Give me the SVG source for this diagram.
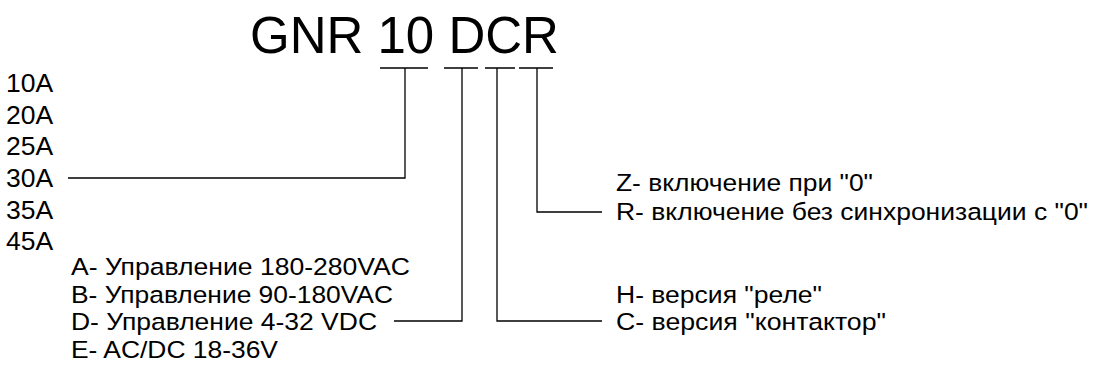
<svg xmlns="http://www.w3.org/2000/svg" width="1095" height="370" viewBox="0 0 1095 370">
<style>
text{font-family:"Liberation Sans",Arial,sans-serif;fill:#000}
.t{font-size:51px}
.a{font-size:26.5px}
.o{font-size:24.5px}
.c{fill:none;stroke:#000;stroke-width:1.3}
</style>
<rect width="1095" height="370" fill="#fff"/>
<g id="title"><text class="t" x="250" y="53">GNR 10 DCR</text></g>
<g id="current">
<text class="a" x="6" y="92">10A</text>
<text class="a" x="6" y="124">20A</text>
<text class="a" x="6" y="155">25A</text>
<text class="a" x="6" y="187">30A</text>
<text class="a" x="6" y="219">35A</text>
<text class="a" x="6" y="250">45A</text>
</g>
<g id="control">
<text class="o" x="71" y="275" textLength="339" lengthAdjust="spacingAndGlyphs">A- Управление 180-280VAC</text>
<text class="o" x="71" y="302.5" textLength="322" lengthAdjust="spacingAndGlyphs">B- Управление 90-180VAC</text>
<text class="o" x="71" y="330" textLength="306" lengthAdjust="spacingAndGlyphs">D- Управление 4-32 VDC</text>
<text class="o" x="71" y="357.5" textLength="207" lengthAdjust="spacingAndGlyphs">E- AC/DC 18-36V</text>
</g>
<g id="version">
<text class="o" x="616" y="302.5" textLength="206" lengthAdjust="spacingAndGlyphs">H- версия "реле"</text>
<text class="o" x="616" y="330" textLength="270" lengthAdjust="spacingAndGlyphs">C- версия "контактор"</text>
</g>
<g id="switching">
<text class="o" x="616" y="191" textLength="257" lengthAdjust="spacingAndGlyphs">Z- включение при "0"</text>
<text class="o" x="616" y="220" textLength="472" lengthAdjust="spacingAndGlyphs">R- включение без синхронизации с "0"</text>
</g>
<g id="connectors" class="c">
<path d="M380 68H428M405 68V178H68"/>
<path d="M444 68H478M462 68V321H394"/>
<path d="M485 68H515M497 68V321H602"/>
<path d="M519 68H553M537 68V212H602"/>
</g>
</svg>
